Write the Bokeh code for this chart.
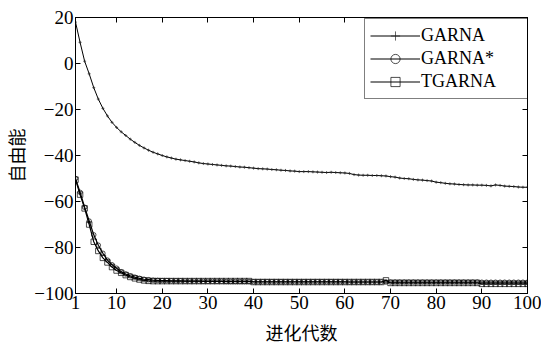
from bokeh.plotting import figure
from bokeh.models import FixedTicker, LinearAxis, Legend, LegendItem, Range1d
from bokeh.embed import file_html
from bokeh.resources import INLINE

generations = list(range(1, 101))

garna = [
    18.0, 9.2, 1.0, -4.5, -10.5, -15.5, -19.5, -22.8, -25.6, -27.8,
    -29.7, -31.3, -32.9, -34.3, -35.6, -36.7, -37.7, -38.6, -39.3, -40.0,
    -40.6, -41.1, -41.6, -41.9, -42.2, -42.5, -42.8, -43.2, -43.5, -43.7,
    -43.9, -44.1, -44.3, -44.5, -44.6, -44.8, -45.0, -45.1, -45.3, -45.5,
    -45.7, -45.8, -45.9, -46.1, -46.2, -46.4, -46.5, -46.7, -46.8, -47.0,
    -47.0, -47.0, -47.1, -47.2, -47.3, -47.4, -47.3, -47.4, -47.5, -47.6,
    -47.8, -48.3, -48.5, -48.6, -48.6, -48.7, -48.7, -48.8, -48.9, -49.2,
    -49.4, -49.8, -50.0, -50.1, -50.4, -50.6, -50.7, -50.9, -51.1, -51.6,
    -51.8, -52.1, -52.3, -52.4, -52.6, -52.7, -52.8, -52.8, -52.9, -52.9,
    -53.0, -53.2, -52.8, -53.0, -53.3, -53.4, -53.5, -53.7, -53.8, -53.8,
]

garna_star = [
    -50.0, -56.0, -62.5, -68.5, -74.5, -79.0, -82.5, -85.5, -87.5, -89.0,
    -90.5, -91.5, -92.3, -92.9, -93.4, -93.8, -94.0, -94.2, -94.3, -94.4,
    -94.4, -94.5, -94.5, -94.5, -94.6, -94.6, -94.6, -94.6, -94.7, -94.7,
    -94.7, -94.7, -94.7, -94.8, -94.8, -94.8, -94.8, -94.8, -94.8, -94.9,
    -94.9, -94.9, -94.9, -94.9, -94.9, -94.9, -94.9, -94.9, -94.9, -94.9,
    -94.9, -94.9, -94.9, -94.9, -94.9, -94.9, -94.9, -94.9, -94.9, -94.9,
    -95.0, -95.0, -95.0, -95.0, -95.0, -95.0, -95.0, -95.0, -95.0, -95.0,
    -95.0, -95.0, -95.0, -95.0, -95.0, -95.0, -95.0, -95.0, -95.0, -95.0,
    -95.0, -95.0, -95.0, -95.0, -95.0, -95.0, -95.0, -95.0, -95.0, -95.1,
    -95.1, -95.1, -95.1, -95.1, -95.1, -95.1, -95.1, -95.1, -95.1, -95.1,
]

tgarna = [
    -50.5, -57.0, -63.0, -70.0, -77.5, -81.5, -84.5, -86.5, -88.5, -90.0,
    -91.0, -92.0, -92.8, -93.4, -93.9, -94.3, -94.5, -94.6, -94.6, -94.6,
    -94.6, -94.6, -94.6, -94.6, -94.6, -94.6, -94.6, -94.6, -94.6, -94.6,
    -94.6, -94.6, -94.6, -94.6, -94.6, -94.6, -94.6, -94.6, -94.6, -95.0,
    -95.0, -95.0, -95.0, -95.0, -95.0, -95.0, -95.0, -95.0, -95.0, -95.0,
    -95.0, -95.0, -95.0, -95.0, -95.0, -95.0, -95.0, -95.0, -95.0, -95.0,
    -95.0, -95.0, -95.0, -95.0, -95.0, -95.0, -95.0, -95.0, -94.3, -95.4,
    -95.4, -95.4, -95.4, -95.4, -95.4, -95.4, -95.4, -95.4, -95.4, -95.4,
    -95.4, -95.4, -95.4, -95.4, -95.4, -95.4, -95.4, -95.4, -95.4, -95.8,
    -95.8, -95.8, -95.8, -95.8, -95.8, -95.8, -95.8, -95.8, -95.8, -95.8,
]

series_names = ["GARNA", "GARNA*", "TGARNA"]
x_ticks = [1, 10, 20, 30, 40, 50, 60, 70, 80, 90, 100]
y_ticks = [-100, -80, -60, -40, -20, 0, 20]
y_tick_labels = {t: (("\u2212" + str(-t)) if t < 0 else str(t)) for t in y_ticks}
x_label = "进化代数"
y_label = "自由能"

SERIF = "Liberation Serif"
CJK = "Noto Sans CJK SC"

p = figure(width=541, height=347, output_backend="svg", toolbar_location=None,
           x_range=Range1d(1, 100), y_range=Range1d(-100, 20),
           min_border_left=74, min_border_right=14, min_border_top=17,
           min_border_bottom=50)
p.background_fill_color = "white"
p.border_fill_color = "white"
p.outline_line_color = "black"
p.outline_line_width = 1
p.xgrid.visible = False
p.ygrid.visible = False


def style_axis(ax):
    ax.axis_line_color = "black"
    ax.major_tick_line_color = "black"
    ax.major_tick_in = 5
    ax.major_tick_out = 0
    ax.minor_tick_line_color = None
    ax.major_label_text_font = SERIF
    ax.major_label_text_color = "black"
    ax.major_label_text_font_size = "19px"
    ax.major_label_standoff = 2


xa = p.xaxis[0]
ya = p.yaxis[0]
xa.ticker = FixedTicker(ticks=x_ticks)
ya.ticker = FixedTicker(ticks=y_ticks)
ya.major_label_overrides = y_tick_labels
style_axis(xa)
style_axis(ya)
xa.axis_label = x_label
ya.axis_label = y_label
for ax in (xa, ya):
    ax.axis_label_text_font = CJK
    ax.axis_label_text_font_size = "18px"
    ax.axis_label_text_font_style = "normal"
    ax.axis_label_text_color = "black"
xa.axis_label_standoff = 7
ya.axis_label_standoff = 2

# tick-only axes on top and right (MATLAB-style box)
top = LinearAxis(ticker=FixedTicker(ticks=x_ticks))
right = LinearAxis(ticker=FixedTicker(ticks=y_ticks))
for ax, ticks in ((top, x_ticks), (right, y_ticks)):
    style_axis(ax)
    ax.major_label_overrides = {t: "" for t in ticks}
    ax.major_label_text_font_size = "1px"
    ax.major_label_text_color = None
    ax.major_label_standoff = 0
    ax.axis_label_standoff = 0
p.add_layout(top, "above")
p.add_layout(right, "right")

l1 = p.line(generations, garna, line_color="black", line_width=1)
s1 = p.scatter(generations, garna, marker="cross", size=3, line_color="#222222", line_width=0.7)
l2 = p.line(generations, garna_star, line_color="black", line_width=1.2)
s2 = p.scatter(generations, garna_star, marker="circle", size=4.5, line_color="black",
               fill_color=None, line_width=0.7)
l3 = p.line(generations, tgarna, line_color="black", line_width=1.2)
s3 = p.scatter(generations, tgarna, marker="square", size=5.5, line_color="black",
               fill_color=None, line_width=0.7)

legend = Legend(items=[
    LegendItem(label=series_names[0], renderers=[l1, s1]),
    LegendItem(label=series_names[1], renderers=[l2, s2]),
    LegendItem(label=series_names[2], renderers=[l3, s3]),
], location=(289, 194))
legend.border_line_color = "black"
legend.border_line_width = 1
legend.background_fill_color = "white"
legend.background_fill_alpha = 1
legend.padding = 5
legend.spacing = 0
legend.margin = 0
legend.glyph_width = 50
legend.glyph_height = 23
legend.label_height = 23
legend.label_width = 105
legend.label_standoff = 1
legend.label_text_font = SERIF
legend.label_text_font_size = "18px"
legend.label_text_color = "black"
p.add_layout(legend)

open("out.html", "w").write(file_html(p, INLINE))
